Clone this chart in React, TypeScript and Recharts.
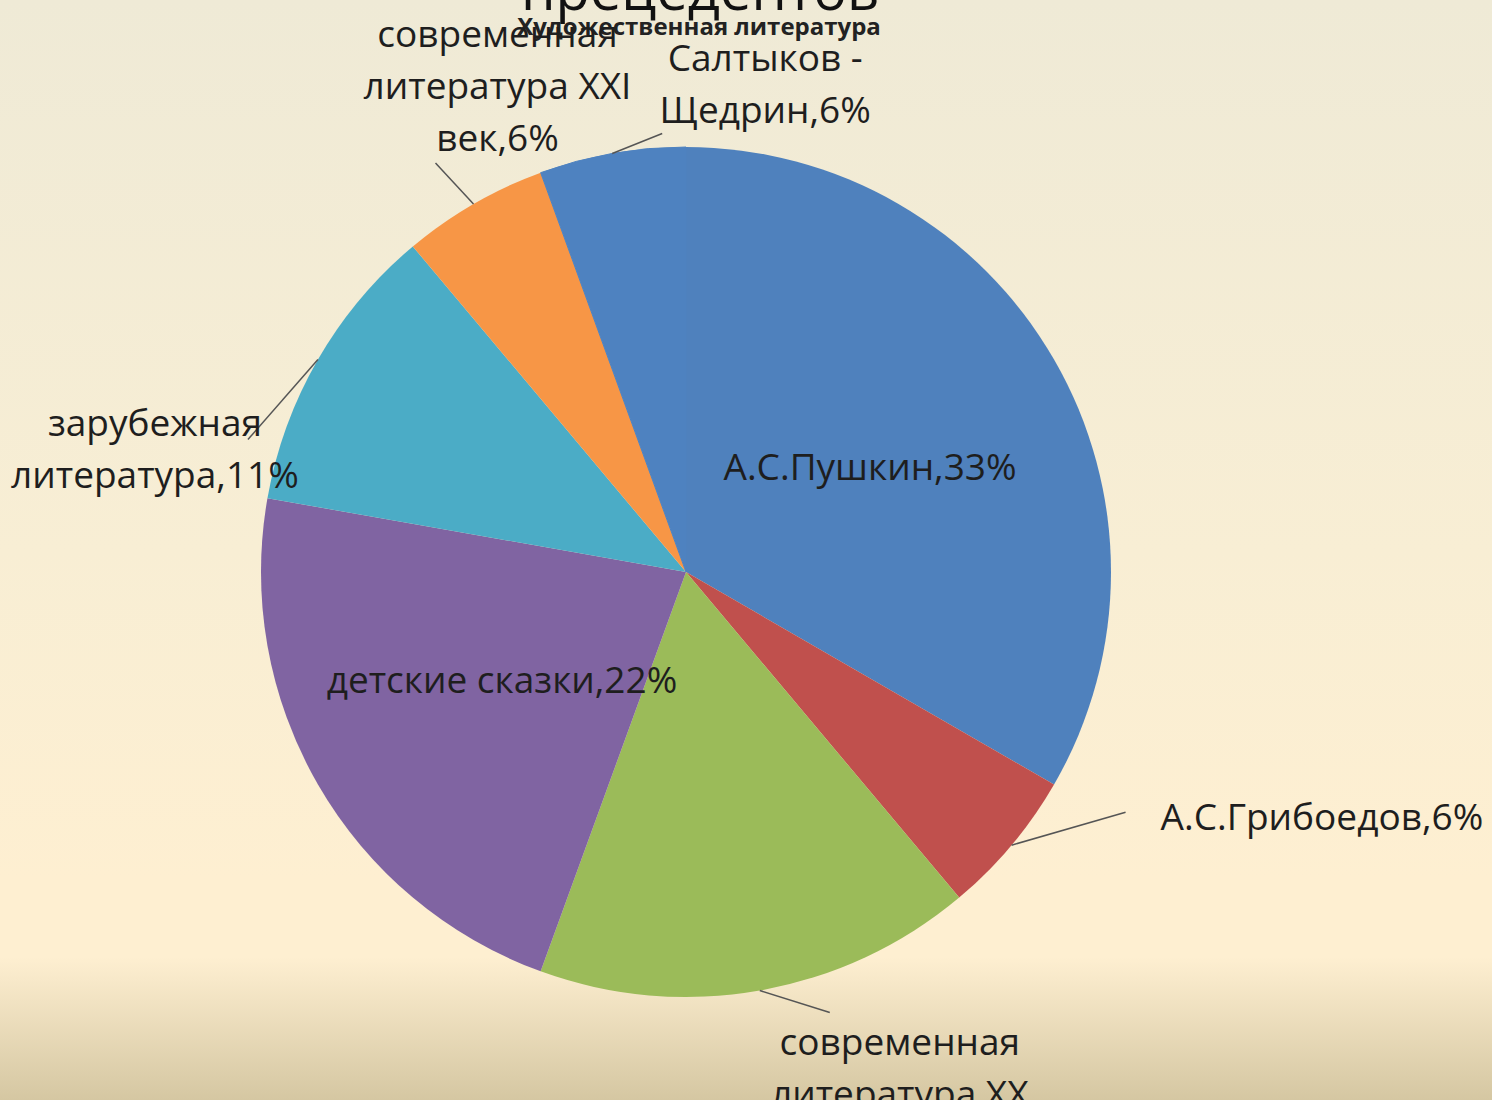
import React from "react";
import { PieChart, Pie, Cell } from "recharts";

const names = [
  "А.С.Пушкин",
  "А.С.Грибоедов",
  "современная литература XX век",
  "детские сказки",
  "зарубежная литература",
  "современная литература XXI век",
  "Салтыков - Щедрин",
];
// counts of precedents per source
const values = [6, 1, 3, 4, 2, 1, 1];
// how each label is broken into lines (the last line gets ",NN%")
const labelLines = [
  ["А.С.Пушкин"],
  ["А.С.Грибоедов"],
  ["современная", "литература XX", "век"],
  ["детские сказки"],
  ["зарубежная", "литература"],
  ["современная", "литература XXI", "век"],
  ["Салтыков -", "Щедрин"],
];
const colors = ["#4f81bd", "#c0504d", "#9bbb59", "#8064a2", "#4bacc6", "#f79646", "#4e82c0"];

const data = names.map((name, i) => ({ name, value: values[i] }));

// label placement: inside labels sit at half radius, outside ones get a leader line
// line = end of leader line, text = first-line center; both offset from slice edge midpoint
const labelLayout: Array<
  | { inside: true }
  | { inside: false; line: [number, number]; text: [number, number]; anchor: "start" | "middle" }
> = [
  { inside: true },
  { inside: false, line: [114, -33], text: [149, -30], anchor: "start" },
  { inside: false, line: [70, 22], text: [140, 50], anchor: "middle" },
  { inside: true },
  { inside: false, line: [-70, 80], text: [-163, 62], anchor: "middle" },
  { inside: false, line: [-38, -41], text: [24, -171], anchor: "middle" },
  { inside: false, line: [50, -20], text: [153, -97], anchor: "middle" },
];

const RAD = Math.PI / 180;
const FONT = "'Open Sans', 'Noto Sans', sans-serif";
const LINE_H = 52;
const LABEL_SIZE = 37;

function renderLabel(props: any) {
  const { cx, cy, midAngle, outerRadius, percent, index } = props;
  const lines = labelLines[index].slice();
  lines[lines.length - 1] += "," + Math.round(percent * 100) + "%";
  const layout = labelLayout[index];
  const cos = Math.cos(-midAngle * RAD);
  const sin = Math.sin(-midAngle * RAD);
  if (layout.inside) {
    const x = cx + outerRadius * 0.5 * cos;
    const y = cy + outerRadius * 0.5 * sin;
    return (
      <text x={x} y={y} textAnchor="middle" dominantBaseline="central" fill="#1e1e1e" fontSize={LABEL_SIZE} fontFamily={FONT}>
        {lines[0]}
      </text>
    );
  }
  const ex = cx + outerRadius * cos;
  const ey = cy + outerRadius * sin;
  return (
    <g>
      <line x1={ex} y1={ey} x2={ex + layout.line[0]} y2={ey + layout.line[1]} stroke="#555" strokeWidth={1.5} />
      {lines.map((t, k) => (
        <text
          key={k}
          x={ex + layout.text[0]}
          y={ey + layout.text[1] + k * LINE_H}
          textAnchor={layout.anchor}
          dominantBaseline="central"
          fill="#1e1e1e"
          fontSize={LABEL_SIZE}
          fontFamily={FONT}
        >
          {t}
        </text>
      ))}
    </g>
  );
}

export default function App() {
  return (
    <div
      style={{
        position: "absolute",
        left: 0,
        top: 0,
        width: 1492,
        height: 1100,
        overflow: "hidden",
        background:
          "linear-gradient(to bottom, #efead6 0%, #f8eed4 50%, #feefd1 80%, #feefd1 87%, #d5c7a2 100%)",
      }}
    >
      <PieChart width={1492} height={1100} margin={{ top: 0, right: 0, bottom: 0, left: 0 }}>
        <text x={700} y={10} textAnchor="middle" fontSize={56} fontFamily={FONT} fill="#111">
          прецедентов
        </text>
        <text x={699} y={25} textAnchor="middle" dominantBaseline="central" fontSize={24} fontWeight="bold" fontFamily={FONT} fill="#222">
          Художественная литература
        </text>
        <Pie
          data={data}
          dataKey="value"
          nameKey="name"
          cx={686}
          cy={572}
          outerRadius={425}
          startAngle={90}
          endAngle={-270}
          stroke="rgba(90,90,90,0.55)"
          strokeWidth={1}
          label={renderLabel}
          labelLine={false}
          isAnimationActive={false}
        >
          {data.map((d, i) => (
            <Cell key={d.name} fill={colors[i]} stroke={i === data.length - 1 ? colors[i] : undefined} />
          ))}
        </Pie>
      </PieChart>
    </div>
  );
}
